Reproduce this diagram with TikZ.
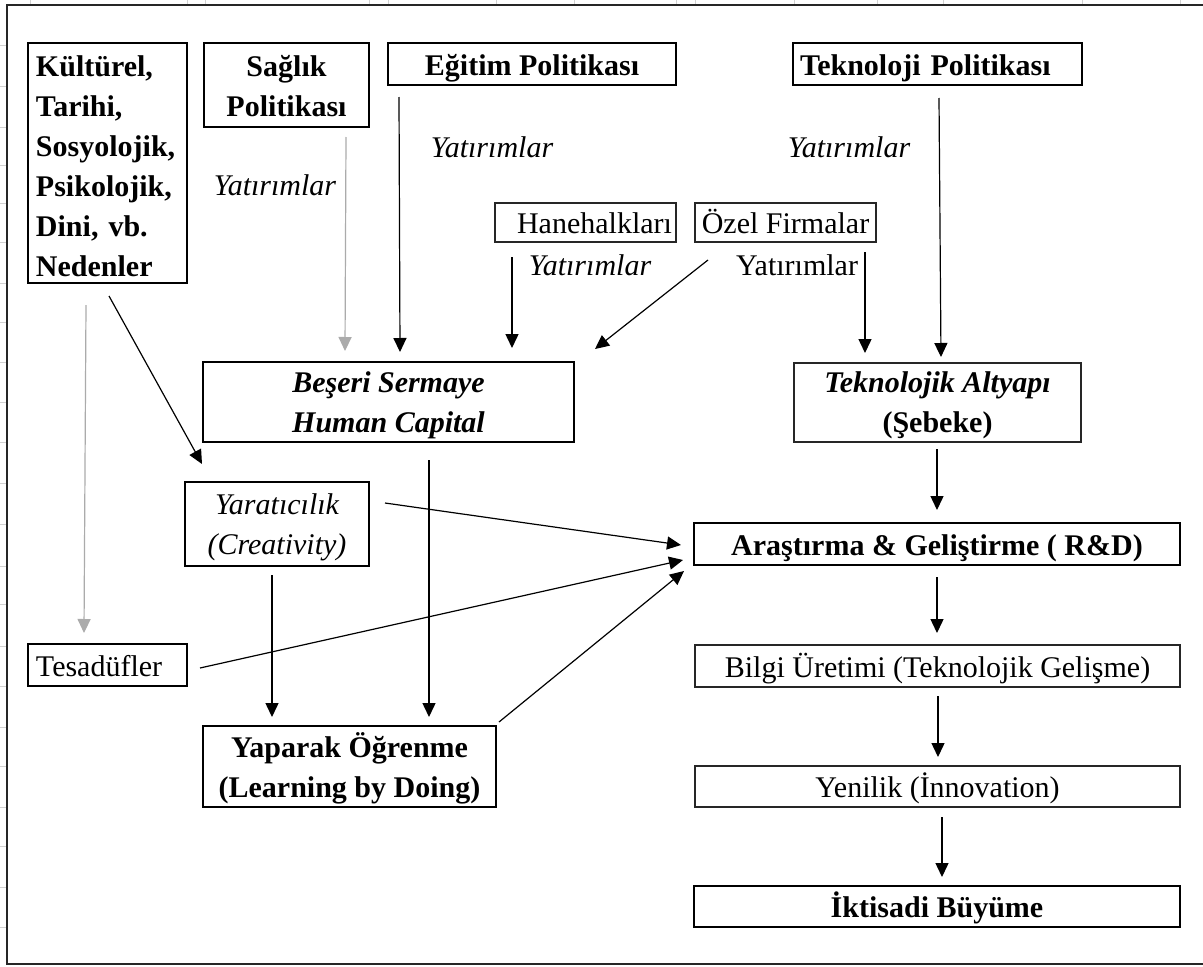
\documentclass[tikz,border=0pt]{standalone}
\usepackage{fontspec}
\setmainfont{Liberation Serif}
\usetikzlibrary{arrows.meta}
\newcommand\ft{\fontsize{22.5}{30}\selectfont}
\newcommand\lift[1]{\rule{0pt}{#1}}
\begin{document}
\begin{tikzpicture}[x=0.75pt,y=-0.75pt,
  every node/.style={font=\ft, text=black, inner sep=0pt},
  one/.style={text height=22pt, text depth=5.5pt},
  boxthick/.style={draw=black, line width=2.2pt},
  boxmid/.style={draw=black, line width=1.8pt},
  boxthin/.style={draw=black!85, line width=1.1pt},
  lbl/.style={font=\ft\itshape},
  arr/.style={draw=black, line width=0.9pt, -{Triangle[length=10.5pt,width=9.8pt]}},
  grayarr/.style={arr, draw=black!33},
  gridtick/.style={draw=black!18, line width=0.6pt}]
\useasboundingbox (0,0) rectangle (1203,967);
% faint spreadsheet grid ticks
\foreach \gx in {30,187,205,369,388,496,574,676,695,794,877,943,1082,1180}
  \draw[gridtick] (\gx,0) -- (\gx,4);
\foreach \gy in {45,86,127,165,203,242,283,322,362,402,442,483,524,566,604,646,686,727,766,807,846,887,927}
  \draw[gridtick] (0,\gy) -- (6,\gy);
% outer frame
\draw[black!85, line width=1.6pt] (1203,5) -- (7,5) -- (7,964) -- (1203,964);

% boxes
\node[boxthick, text width=143*0.75pt, inner xsep=8*0.75pt, minimum height=240*0.75pt, align=left, font=\ft\bfseries] (kultur) at (107.5,163) {\lift{21pt}Kültürel,\\Tarihi,\\Sosyolojik,\\Psikolojik,\\Dini, vb.\\Nedenler};
\node[boxthick, minimum width=165*0.75pt, minimum height=84*0.75pt, align=center, font=\ft\bfseries] (saglik) at (286.5,85) {\lift{18pt}Sağlık\\Politikası};
\node[boxthick, one, minimum width=288*0.75pt, minimum height=42*0.75pt, font=\ft\bfseries] (egitim) at (532,64) {Eğitim Politikası};
\node[boxthick, one, text width=275*0.75pt, inner xsep=7*0.75pt, minimum height=42*0.75pt, align=left, font=\ft\bfseries] (tekpol) at (937.5,64) {Teknoloji Politikası};
\node[boxthin, one, text width=173*0.75pt, inner xsep=4*0.75pt, minimum height=39*0.75pt, align=right] (hane) at (585.5,222.5) {Hanehalkları};
\node[boxthin, one, minimum width=181*0.75pt, minimum height=39*0.75pt] (ozel) at (785.5,222.5) {Özel Firmalar};
\node[boxthick, minimum width=371*0.75pt, minimum height=80*0.75pt, align=center, font=\ft\bfseries\itshape] (beseri) at (388.5,402) {\lift{20pt}Beşeri Sermaye\\Human Capital};
\node[boxthin, minimum width=287*0.75pt, minimum height=79*0.75pt, align=center] (tekalt) at (937.5,402.5) {\lift{20pt}{\bfseries\itshape Teknolojik Altyapı}\\{\bfseries (Şebeke)}};
\node[boxmid, minimum width=184*0.75pt, minimum height=84*0.75pt, align=center, font=\ft\itshape] (yarat) at (277,524) {\lift{21pt}Yaratıcılık\\(Creativity)};
\node[boxmid, one, text width=143*0.75pt, inner xsep=8*0.75pt, minimum height=42*0.75pt, align=left] (tesad) at (107.5,665) {Tesadüfler};
\node[boxthick, minimum width=293*0.75pt, minimum height=81*0.75pt, align=center, font=\ft\bfseries] (yapar) at (349.5,766.5) {\lift{22pt}Yaparak Öğrenme\\(Learning by Doing)};
\node[boxthick, one, minimum width=486*0.75pt, minimum height=42*0.75pt, font=\ft\bfseries] (rd) at (937,544) {Araştırma \& Geliştirme ( R\&D)};
\node[boxthin, one, minimum width=485*0.75pt, minimum height=42*0.75pt] (bilgi) at (937.5,666) {Bilgi Üretimi (Teknolojik Gelişme)};
\node[boxthin, one, minimum width=485*0.75pt, minimum height=41*0.75pt] (yenilik) at (937.5,786.5) {Yenilik (İnnovation)};
\node[boxthick, one, minimum width=486*0.75pt, minimum height=41*0.75pt, font=\ft\bfseries] (iktisadi) at (937,906.5) {İktisadi Büyüme};

% labels
\node[lbl] (yatA) at (275,185) {Yatırımlar};
\node[lbl] (yatB) at (492,147) {Yatırımlar};
\node[lbl] (yatC) at (849,147) {Yatırımlar};
\node[lbl] (yatD) at (590,265) {Yatırımlar};
\node (yatE) at (797,265) {Yatırımlar};

% connector end points
\coordinate (saglikOut) at (346,137);   \coordinate (beseriInA) at (345,351);
\coordinate (egitimOut) at (399,97);    \coordinate (beseriInB) at (400,352);
\coordinate (haneOut) at (512,257);     \coordinate (beseriInC) at (512,348);
\coordinate (ozelOutA) at (708,260);    \coordinate (beseriInD) at (595,349);
\coordinate (ozelOutB) at (865,252);    \coordinate (tekaltInA) at (865,353);
\coordinate (tekpolOut) at (939,98);    \coordinate (tekaltInB) at (941,357);
\coordinate (tekaltOut) at (937,449);   \coordinate (rdInA) at (937,510);
\coordinate (kulturOutA) at (109,296);  \coordinate (yaratIn) at (202,464);
\coordinate (kulturOutB) at (86,305);   \coordinate (tesadIn) at (84,633);
\coordinate (beseriOut) at (429,460);   \coordinate (yaparInA) at (429,717);
\coordinate (yaratOutA) at (272,575);   \coordinate (yaparInB) at (272,717);
\coordinate (yaratOutB) at (385,503);   \coordinate (rdInB) at (681,545);
\coordinate (tesadOut) at (200,668);    \coordinate (rdInC) at (683,560);
\coordinate (yaparOut) at (499,722);    \coordinate (rdInD) at (684,571);
\coordinate (rdOut) at (937,577);       \coordinate (bilgiIn) at (937,633);
\coordinate (bilgiOut) at (938,696);    \coordinate (yenilikIn) at (938,757);
\coordinate (yenilikOut) at (942,817);  \coordinate (iktisadiIn) at (942,877);

% connectors
\draw[grayarr] (saglikOut) -- (beseriInA);
\draw[arr] (egitimOut) -- (beseriInB);
\draw[arr] (haneOut) -- (beseriInC);
\draw[arr] (ozelOutA) -- (beseriInD);
\draw[arr] (ozelOutB) -- (tekaltInA);
\draw[arr] (tekpolOut) -- (tekaltInB);
\draw[arr] (tekaltOut) -- (rdInA);
\draw[arr] (kulturOutA) -- (yaratIn);
\draw[grayarr] (kulturOutB) -- (tesadIn);
\draw[arr] (beseriOut) -- (yaparInA);
\draw[arr] (yaratOutA) -- (yaparInB);
\draw[arr] (yaratOutB) -- (rdInB);
\draw[arr] (tesadOut) -- (rdInC);
\draw[arr] (yaparOut) -- (rdInD);
\draw[arr] (rdOut) -- (bilgiIn);
\draw[arr] (bilgiOut) -- (yenilikIn);
\draw[arr] (yenilikOut) -- (iktisadiIn);
\end{tikzpicture}
\end{document}
